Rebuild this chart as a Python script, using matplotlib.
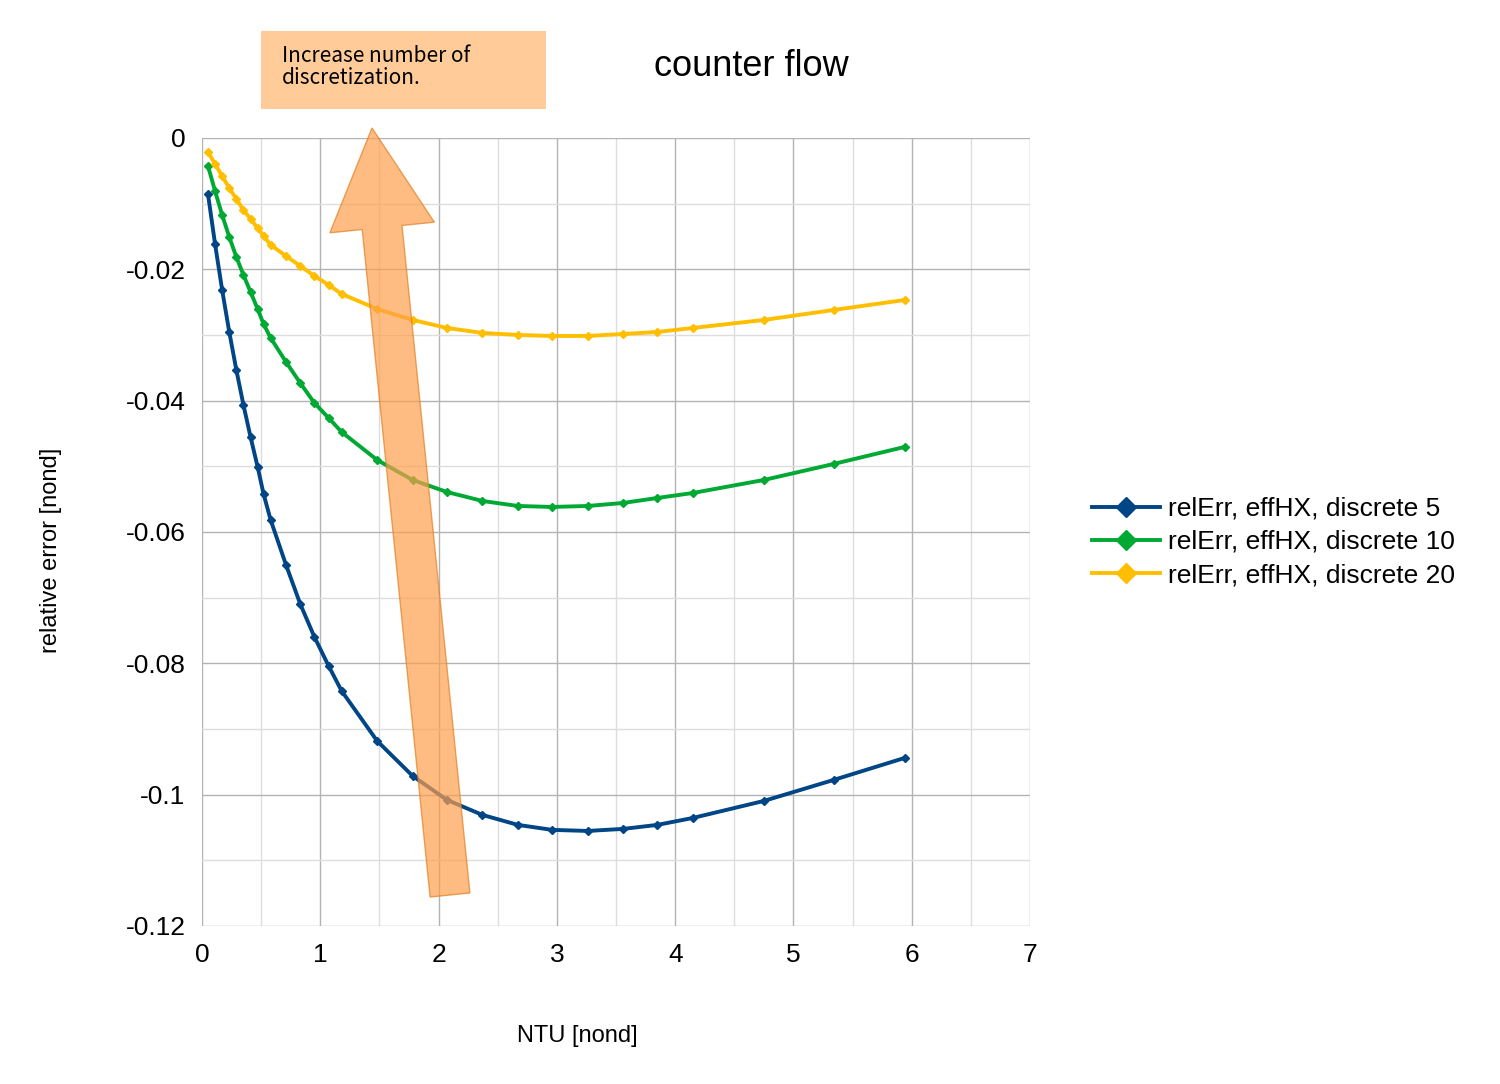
import matplotlib
matplotlib.use("Agg")
import matplotlib.pyplot as plt
from matplotlib.patches import FancyArrow, Rectangle
from matplotlib.lines import Line2D

plt.rcParams['font.family'] = ['Liberation Sans', 'DejaVu Sans']

ntu = [0.05, 0.11, 0.17, 0.23, 0.29, 0.35, 0.41, 0.47, 0.52, 0.58, 0.71, 0.83, 0.95, 1.07, 1.18,
       1.48, 1.78, 2.07, 2.37, 2.67, 2.96, 3.26, 3.56, 3.85, 4.15, 4.75, 5.34, 5.94]
err5 = [-0.00853, -0.01614, -0.02315, -0.02954, -0.03533, -0.04066, -0.04553, -0.0501, -0.05421, -0.05817,
        -0.06502, -0.07096, -0.07599, -0.0804, -0.08421, -0.09182, -0.09715, -0.1008, -0.10309, -0.10461,
        -0.10537, -0.10553, -0.10522, -0.10461, -0.10355, -0.10096, -0.09776, -0.09441]
err10 = [-0.00426, -0.00807, -0.01173, -0.01508, -0.01812, -0.02086, -0.02345, -0.02604, -0.02832, -0.03045,
         -0.03411, -0.03731, -0.04035, -0.04264, -0.04477, -0.04903, -0.05208, -0.05391, -0.05528, -0.05604,
         -0.05619, -0.05604, -0.05558, -0.05482, -0.05406, -0.05208, -0.04964, -0.04705]
err20 = [-0.00213, -0.00396, -0.00579, -0.00761, -0.00929, -0.01096, -0.01233, -0.01371, -0.01492, -0.01629,
         -0.01797, -0.01949, -0.02101, -0.02238, -0.02375, -0.02604, -0.02771, -0.02893, -0.02969, -0.03,
         -0.03015, -0.03015, -0.02985, -0.02954, -0.02893, -0.02771, -0.02619, -0.02467]
labels = ["relErr, effHX, discrete 5", "relErr, effHX, discrete 10", "relErr, effHX, discrete 20"]
colors = ["#004586", "#00a933", "#ffbf00"]
xticks = [0, 1, 2, 3, 4, 5, 6, 7]
yticks = [0, -0.02, -0.04, -0.06, -0.08, -0.1, -0.12]
ytick_labels = ["0", "-0.02", "-0.04", "-0.06", "-0.08", "-0.1", "-0.12"]

fig = plt.figure(figsize=(15, 10.84), dpi=100)
ax = fig.add_axes([0.1347, 0.1458, 0.552, 0.7269])
for y, lab, c in zip([err5, err10, err20], labels, colors):
    ax.plot(ntu, y, color=c, lw=2.8, marker='D', ms=4, label=lab)
ax.set_xlim(0, 7)
ax.set_ylim(-0.12, 0)
ax.set_xticks(xticks)
ax.set_yticks(yticks)
ax.set_yticklabels(ytick_labels)
ax.set_xticks([i + 0.5 for i in range(7)], minor=True)
ax.set_yticks([-0.01, -0.03, -0.05, -0.07, -0.09, -0.11], minor=True)
ax.grid(which='major', color='#b3b3b3', lw=1)
ax.grid(which='minor', color='#dddddd', lw=1)
ax.set_axisbelow(True)
ax.tick_params(which='both', length=0, labelsize=19, pad=12)
for s in ax.spines.values():
    s.set_visible(False)
ax.set_xlabel("NTU [nond]", fontsize=17)
ax.set_ylabel("relative error [nond]", fontsize=17)
ax.xaxis.set_label_coords(0.453, -0.126)
ax.yaxis.set_label_coords(-0.169, 0.477)

handles = [Line2D([0], [0], color=c, lw=2.8, marker='D', ms=10) for c in colors]
fig.legend(handles, labels, loc='center left', bbox_to_anchor=(0.712, 0.5), frameon=False,
           fontsize=19, handlelength=2.6, labelspacing=0.35, handletextpad=0.3)

fig.text(0.501, 0.939, "counter flow", fontsize=26, ha='center', va='center')
fig.patches.append(Rectangle((2.61, 9.75), 2.85, 0.78, transform=fig.dpi_scale_trans,
                             facecolor='#ffcc99', edgecolor='none'))
fig.text(0.188, 0.938, "Increase number of\ndiscretization.", fontsize=15, ha='left', va='center',
         linespacing=1.0, family=['Noto Sans CJK JP', 'DejaVu Sans'])
fig.patches.append(FancyArrow(4.50, 1.89, -0.78, 7.67, width=0.4, head_width=1.05, head_length=1.0,
                              length_includes_head=True, transform=fig.dpi_scale_trans,
                              facecolor='#ffa04d', alpha=0.7, edgecolor='#e08020', lw=1))
fig.savefig("out.png", dpi=100)
